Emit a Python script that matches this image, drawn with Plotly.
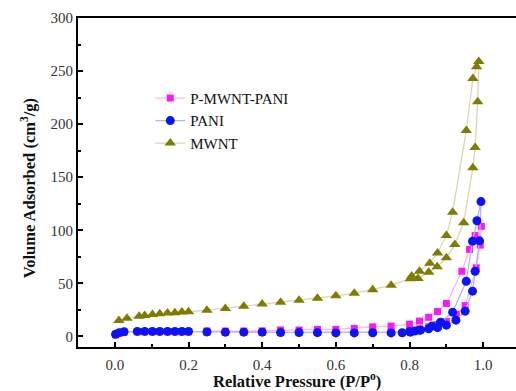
import plotly.graph_objects as go

# Nitrogen adsorption-desorption isotherms (adsorption branch, then desorption branch)

# MWNT
mwnt_ads_p = [0.011, 0.033, 0.066, 0.081, 0.102, 0.122, 0.143, 0.163, 0.182, 0.200,
              0.25, 0.30, 0.35, 0.40, 0.45, 0.50, 0.55, 0.60, 0.65, 0.70, 0.75,
              0.802, 0.823, 0.852, 0.875, 0.900, 0.923, 0.947, 0.972, 0.978, 0.985, 0.988]
mwnt_ads_v = [15.0, 17.0, 19.0, 19.7, 20.7, 21.3, 22.0, 22.3, 23.0, 23.2,
              24.7, 26.3, 28.5, 30.4, 32.2, 34.0, 36.0, 38.2, 40.7, 44.0, 48.2,
              54.2, 54.5, 60.5, 65.5, 74.0, 86.5, 107.0, 159.0, 178.0, 221.0, 259.0]
mwnt_des_p = [0.982, 0.972, 0.954, 0.917, 0.900, 0.876, 0.855, 0.827, 0.806]
mwnt_des_v = [254.0, 243.0, 194.0, 117.0, 95.0, 78.6, 69.0, 61.4, 57.0]

# PANI
pani_ads_p = [0.002, 0.012, 0.025, 0.061, 0.081, 0.102, 0.122, 0.143, 0.163, 0.182, 0.200,
              0.25, 0.30, 0.35, 0.40, 0.45, 0.50, 0.55, 0.60, 0.65, 0.70, 0.75,
              0.780, 0.802, 0.814, 0.827, 0.852, 0.876, 0.900, 0.926, 0.951, 0.971,
              0.978, 0.990, 0.994]
pani_ads_v = [2.0, 3.5, 4.4, 4.7, 4.7, 4.7, 4.7, 4.7, 4.7, 4.7, 4.7,
              4.2, 4.0, 4.0, 4.0, 3.6, 3.6, 3.5, 3.3, 3.3, 3.4, 3.3,
              3.4, 4.0, 5.0, 5.9, 7.2, 8.2, 10.6, 15.3, 23.8, 42.6,
              61.4, 90.0, 127.0]
pani_des_p = [0.983, 0.971, 0.954, 0.917, 0.884, 0.861, 0.830, 0.800]
pani_des_v = [109.0, 89.6, 52.0, 22.8, 13.4, 9.7, 6.0, 4.5]

# P-MWNT-PANI
pmp_ads_p = [0.002, 0.012, 0.025, 0.061, 0.081, 0.102, 0.122, 0.143, 0.163, 0.182, 0.200,
             0.25, 0.30, 0.35, 0.40, 0.45, 0.50, 0.55, 0.60, 0.65, 0.70, 0.75,
             0.800, 0.827, 0.852, 0.876, 0.900, 0.927, 0.951, 0.981, 0.992, 0.995]
pmp_ads_v = [1.5, 3.0, 4.0, 4.3, 4.3, 4.3, 4.3, 4.3, 4.3, 4.3, 4.3,
             3.8, 3.8, 3.8, 3.8, 3.7, 3.7, 3.7, 3.7, 3.7, 3.8, 4.0,
             5.5, 7.0, 9.0, 11.0, 14.0, 20.7, 29.0, 64.6, 86.0, 103.7]
pmp_des_p = [0.978, 0.963, 0.942, 0.900, 0.876, 0.852, 0.827, 0.800,
             0.75, 0.70, 0.65, 0.60, 0.55, 0.50, 0.45, 0.40, 0.35, 0.30, 0.25]
pmp_des_v = [95.0, 82.0, 61.4, 31.0, 23.5, 18.0, 14.4, 11.5,
             9.7, 9.0, 7.5, 6.6, 6.6, 6.0, 6.0, 5.2, 5.0, 5.0, 5.0]

series = [
    ("P-MWNT-PANI", pmp_ads_p + pmp_des_p, pmp_ads_v + pmp_des_v,
     "square", 7, "#ff19f0", "#f9b8ef"),
    ("PANI", pani_ads_p + pani_des_p, pani_ads_v + pani_des_v,
     "circle", 9, "#0a14f5", "#b4b4fa"),
    ("MWNT", mwnt_ads_p + mwnt_des_p, mwnt_ads_v + mwnt_des_v,
     "triangle-up", 10, "#7f7c00", "#d8d8b0"),
]

serif = "Liberation Serif, Times New Roman, serif"
title_font = dict(family=serif, size=16.5, color="#111111")

fig = go.Figure()
for name, px, vy, sym, size, mcol, lcol in series:
    fig.add_trace(go.Scatter(
        x=px, y=vy, name=name, mode="lines+markers",
        line=dict(color=lcol, width=1.3),
        marker=dict(symbol=sym, size=size, color=mcol, line=dict(width=0)),
    ))

axis_common = dict(
    showline=True, linecolor="black", linewidth=2,
    ticks="inside", ticklen=5, tickwidth=1.5, tickcolor="black",
    showgrid=False, zeroline=False,
    tickfont=dict(family=serif, size=15, color="#333333"),
)

fig.update_layout(
    width=516, height=391,
    margin=dict(l=78, r=0, t=18, b=44),
    paper_bgcolor="white", plot_bgcolor="white",
    showlegend=True,
    legend=dict(
        x=0.165, y=0.806, xanchor="left", yanchor="top",
        bgcolor="rgba(0,0,0,0)", borderwidth=0,
        font=dict(family=serif, size=15, color="#111111"),
        tracegroupgap=0, itemwidth=30,
    ),
    xaxis=dict(
        range=[-0.1, 1.089], tick0=0, dtick=0.2, tickformat=".1f",
        mirror=True, ticklabelstandoff=3,
        minor=dict(ticks="inside", ticklen=3, tickwidth=1.5, tickcolor="black", dtick=0.1, tick0=0),
        **axis_common,
    ),
    yaxis=dict(
        range=[-10, 300], tick0=0, dtick=50,
        mirror=False,
        minor=dict(ticks="inside", ticklen=3, tickwidth=1.5, tickcolor="black", dtick=25, tick0=0),
        **axis_common,
    ),
    annotations=[
        dict(text="<b>Relative Pressure (P/P<sup>o</sup>)</b>",
             xref="paper", yref="paper", x=0.5, y=-0.101,
             xanchor="center", yanchor="middle", showarrow=False, font=title_font),
        dict(text="<b>Volume Adsorbed (cm<sup>3</sup>/g)</b>",
             xref="paper", yref="paper", x=-0.114, y=0.483,
             xanchor="center", yanchor="middle", textangle=-90, showarrow=False,
             font=title_font),
    ],
)

fig.write_html("out.html")
